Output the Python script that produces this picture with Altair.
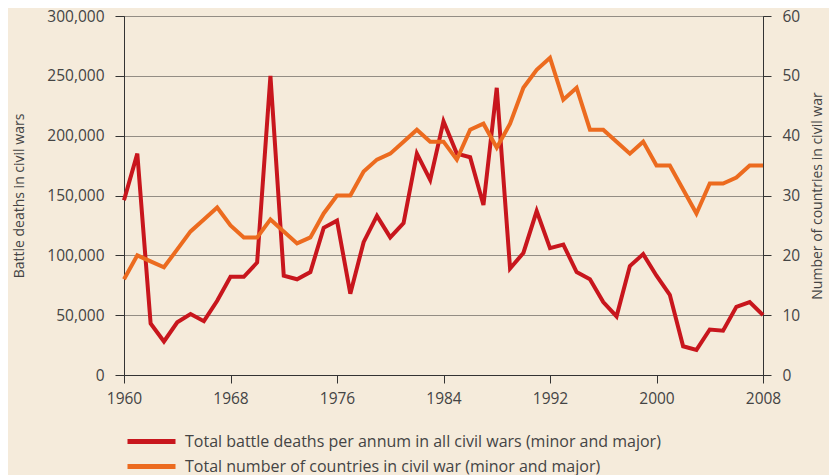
import altair as alt
import pandas as pd

years = list(range(1960, 2009))
deaths = [146000, 185000, 43000, 28000, 44000, 51000, 45000, 62000, 82000, 82000,
          94000, 250000, 83000, 80000, 86000, 123000, 129000, 68000, 111000, 133000,
          115000, 127000, 185000, 163000, 212000, 185000, 182000, 142000, 240000, 89000,
          102000, 137000, 106000, 109000, 86000, 80000, 61000, 49000, 91000, 101000,
          83000, 67000, 24000, 21000, 38000, 37000, 57000, 61000, 50000]
countries = [16, 20, 19, 18, 21, 24, 26, 28, 25, 23,
             23, 26, 24, 22, 23, 27, 30, 30, 34, 36,
             37, 39, 41, 39, 39, 36, 41, 42, 38, 42,
             48, 51, 53, 46, 48, 41, 41, 39, 37, 39,
             35, 35, 31, 27, 32, 32, 33, 35, 35]

s1 = "Total battle deaths per annum in all civil wars (minor and major)"
s2 = "Total number of countries in civil war (minor and major)"
x_ticks = [1960, 1968, 1976, 1984, 1992, 2000, 2008]

df1 = pd.DataFrame({"year": years, "value": deaths, "series": s1})
df2 = pd.DataFrame({"year": years, "value": countries, "series": s2})

FONT = "Open Sans"
TXT = "#444444"
LBL = 15.5

color = alt.Color(
    "series:N",
    scale=alt.Scale(domain=[s1, s2], range=["#c8161d", "#ec6b1f"]),
    legend=alt.Legend(
        title=None, orient="none", legendX=17, legendY=415,
        symbolType="M-3,0H3", symbolSize=256, symbolStrokeWidth=5,
        labelFontSize=16, labelFont=FONT, labelColor=TXT, labelLimit=700,
        rowPadding=4, labelOffset=23, direction="vertical", padding=0,
    ),
)

xenc = alt.X(
    "year:Q",
    scale=alt.Scale(domain=[1960, 2008], nice=False, zero=False),
    axis=alt.Axis(values=x_ticks, format="d", title=None, grid=False,
                  labelFontSize=LBL, labelFont=FONT, labelColor=TXT,
                  domainColor="#333333", tickColor="#333333", tickSize=8,
                  labelPadding=8, labelFlush=False),
)

left = alt.Chart(df1).mark_line(strokeWidth=4).encode(
    x=xenc,
    y=alt.Y("value:Q",
            scale=alt.Scale(domain=[0, 300000], nice=False),
            axis=alt.Axis(values=list(range(0, 300001, 50000)), format=",d",
                          title="Battle deaths in civil wars", grid=True,
                          gridColor="#938d84", gridWidth=1.2,
                          labelFontSize=LBL, labelFont=FONT, labelColor=TXT,
                          titleFontSize=14, titleFont=FONT, titleColor=TXT,
                          titleFontWeight="normal", titlePadding=20,
                          domainColor="#333333", tickColor="#333333", tickSize=9,
                          labelPadding=11)),
    color=color,
)

right = alt.Chart(df2).mark_line(strokeWidth=4).encode(
    x=xenc,
    y=alt.Y("value:Q",
            scale=alt.Scale(domain=[0, 60], nice=False),
            axis=alt.Axis(orient="right", values=list(range(0, 61, 10)),
                          title="Number of countries in civil war", grid=False,
                          titleAngle=270,
                          labelFontSize=LBL, labelFont=FONT, labelColor=TXT,
                          titleFontSize=14, titleFont=FONT, titleColor=TXT,
                          titleFontWeight="normal", titlePadding=25,
                          domainColor="#333333", tickColor="#333333", tickSize=8,
                          labelPadding=11)),
    color=color,
)

chart = alt.layer(left, right).resolve_scale(y="independent").properties(
    width=639, height=359,
    autosize=alt.AutoSizeParams(type="none"),
    padding={"left": 116, "top": 8, "right": 66, "bottom": 100},
    background="#f5ebdb",
).configure_view(stroke="#333333", strokeWidth=1)

chart.save("out.html", embed_options={"renderer": "svg", "actions": False})
